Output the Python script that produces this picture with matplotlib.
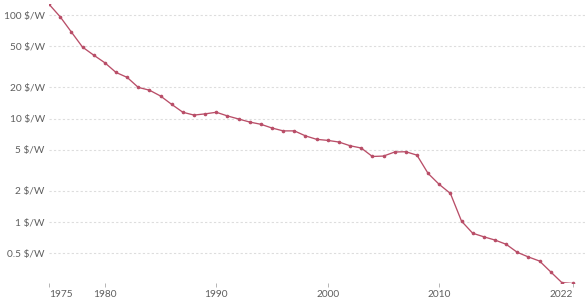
import matplotlib
matplotlib.use("Agg")
from matplotlib import pyplot as plt
from matplotlib.ticker import FixedLocator, NullLocator

years = list(range(1975, 2023))
price = [127, 96, 68.5, 49, 41, 34.6, 27.9, 25, 20, 18.8,
         16.5, 13.7, 11.5, 10.8, 11.1, 11.5, 10.6, 9.9, 9.25, 8.8,
         8.1, 7.6, 7.6, 6.8, 6.3, 6.15, 5.93, 5.46, 5.19, 4.3,
         4.34, 4.75, 4.78, 4.43, 2.95, 2.31, 1.89, 1.02, 0.78, 0.72,
         0.67, 0.61, 0.51, 0.46, 0.42, 0.33, 0.26, 0.255]

ytick_vals = [0.5, 1, 2, 5, 10, 20, 50, 100]
ytick_labels = ["0.5 $/W", "1 $/W", "2 $/W", "5 $/W", "10 $/W", "20 $/W", "50 $/W", "100 $/W"]
xtick_vals = [1975, 1980, 1990, 2000, 2010, 2022]

plt.rcParams['font.family'] = ['Lato', 'DejaVu Sans']

fig = plt.figure(figsize=(5.85, 3.0), dpi=100)
# axes spans x from px 49 to the right edge so the grid runs across
ax = fig.add_axes([49/585, 1 - 283.3/300, 1 - 49/585, (283.3 - 4.3)/300])

col = "#b94e68"
ax.plot(years, price, color=col, lw=0.95, marker='o', ms=1.6, zorder=3)

ax.set_yscale('log')
ax.set_ylim(0.256, 127)
px_per_year = (573 - 49) / 47
ax.set_xlim(1975 - 0.1 / px_per_year, 2022 + 12 / px_per_year)

ax.yaxis.set_major_locator(FixedLocator(ytick_vals))
ax.yaxis.set_minor_locator(NullLocator())
ax.set_yticklabels(ytick_labels)
ax.set_xticks(xtick_vals)
ax.set_xticklabels([str(v) for v in xtick_vals])
# first and last year labels sit inside the tick
xl = ax.get_xticklabels()
xl[0].set_ha('left')
xl[-1].set_ha('right')

ax.grid(axis='y', color='#dddddd', ls=(0, (2, 2)), lw=0.8)
ax.set_axisbelow(True)
for s in ax.spines.values():
    s.set_visible(False)

ax.tick_params(axis='y', length=0, pad=3, labelsize=7.3, labelcolor='#5e5e5e')
ax.tick_params(axis='x', length=3, pad=1.5, labelsize=7.3, labelcolor='#5e5e5e',
               color='#aaaaaa', width=0.6)

fig.savefig('out.png', dpi=100)
